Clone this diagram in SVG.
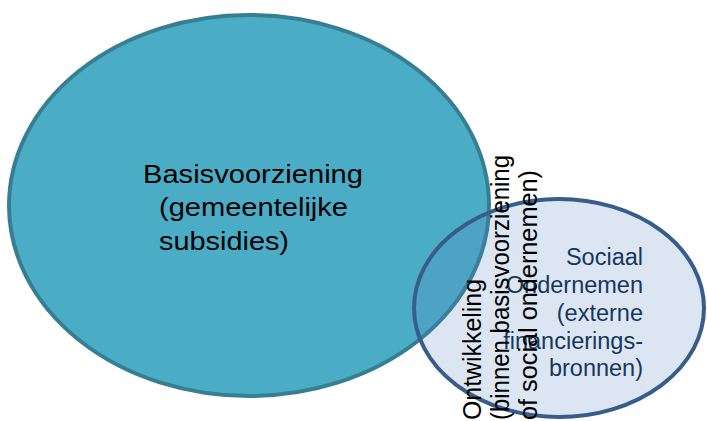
<svg xmlns="http://www.w3.org/2000/svg" width="707" height="421" viewBox="0 0 707 421">
<style>
.t{font-family:"Liberation Sans",Arial,sans-serif;fill:#000}
.big{font-size:26px}
.v{font-size:25px}
.s{font-size:23.5px;fill:#17365D;text-anchor:end}
</style>
<rect width="707" height="421" fill="#fff"/>
<g id="basisvoorziening">
<ellipse cx="249" cy="205.5" rx="240" ry="190.5" fill="#4BACC6" stroke="#367F93" stroke-width="4"/>
<text class="t big"><tspan x="143" y="182.5" textLength="220" lengthAdjust="spacingAndGlyphs">Basisvoorziening</tspan><tspan x="159" y="216" textLength="189" lengthAdjust="spacingAndGlyphs">(gemeentelijke</tspan><tspan x="159" y="249.5" textLength="130" lengthAdjust="spacingAndGlyphs">subsidies)</tspan></text>
</g>
<g id="sociaal-ondernemen">
<ellipse cx="559" cy="308" rx="145" ry="109" fill="#4F81BD" fill-opacity="0.2" stroke="#385D8A" stroke-width="4"/>
<text class="t s"><tspan x="643" y="265">Sociaal</tspan><tspan x="643" y="293">Ondernemen</tspan><tspan x="643" y="321">(externe</tspan><tspan x="643" y="348.5">financierings-</tspan><tspan x="643" y="376">bronnen)</tspan></text>
</g>
<g id="ontwikkeling">
<text class="t v" transform="translate(480.5 420) rotate(-90)" textLength="141" lengthAdjust="spacingAndGlyphs">Ontwikkeling</text>
<text class="t v" transform="translate(508.5 420) rotate(-90)" textLength="265" lengthAdjust="spacingAndGlyphs">(binnen basisvoorziening</text>
<text class="t v" transform="translate(537 420) rotate(-90)" textLength="250" lengthAdjust="spacingAndGlyphs">of social ondernemen)</text>
</g>
<g id="connectors"/>
</svg>
